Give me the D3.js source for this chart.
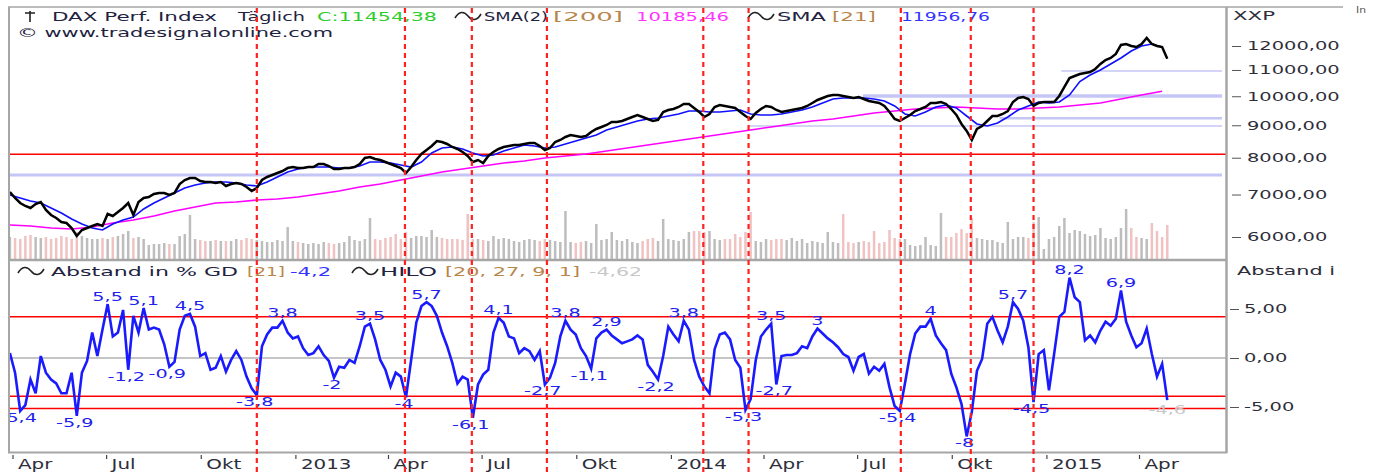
<!DOCTYPE html>
<html>
<head>
<meta charset="utf-8">
<script src="https://cdn.jsdelivr.net/npm/d3@7"></script>
<style>
  body { margin: 0; background: #fff; }
  svg { display: block; }
  text { font-family: "DejaVu Sans", Verdana, sans-serif; }
</style>
</head>
<body>
<svg id="chart"></svg>
<script>
// DAX daily, sampled: closes every 5 days, SMA21 every 10 days, SMA200 every 20 days
const startDate = new Date(Date.UTC(2012, 2, 29));

const closes = [7064,6913,6788,6715,6666,6763,6812,6618,6499,6428,
  6336,6313,6199,6022,6154,6199,6244,6290,6244,6523,
  6475,6570,6666,6788,6499,6812,6913,6938,7013,7039,
  7039,6988,7039,7272,7379,7433,7433,7352,7325,7325,
  7299,7325,7220,7272,7299,7272,7194,7090,7168,7379,
  7460,7514,7569,7623,7706,7734,7706,7706,7734,7734,
  7819,7819,7763,7679,7679,7706,7706,7734,7819,7992,
  8021,7963,7934,7877,7819,7763,7706,7569,7734,7934,
  8109,8228,8348,8501,8470,8409,8318,8258,8168,8051,
  7877,7934,7848,8051,8168,8258,8318,8348,8378,8378,
  8409,8439,8439,8348,8228,8288,8470,8532,8625,8688,
  8656,8625,8656,8784,8880,8945,9010,9108,9108,9141,
  9207,9274,9342,9274,9207,9141,9174,9445,9514,9548,
  9618,9724,9724,9583,9445,9274,9376,9618,9688,9653,
  9618,9583,9445,9308,9207,9411,9548,9653,9618,9514,
  9445,9479,9514,9548,9583,9653,9759,9865,9937,10009,
  10046,10046,10009,9973,9937,9973,9901,9830,9794,9759,
  9653,9445,9207,9141,9241,9342,9479,9548,9618,9759,
  9759,9794,9724,9548,9342,9043,8816,8532,8880,8977,
  9141,9308,9308,9376,9479,9794,9937,9973,9901,9653,
  9759,9794,9794,9794,10009,10342,10684,10762,10840,10880,
  10919,11040,11243,11406,11489,11657,12044,12088,12000,11957,
  12088,12353,12088,12000,11957,11454];

const sma21 = [6988,6913,6837,6788,6666,6547,6405,6290,6199,6154,
  6290,6382,6451,6642,6788,6913,7039,7168,7246,7299,
  7325,7325,7299,7246,7220,7325,7460,7596,7679,7734,
  7734,7734,7706,7706,7763,7877,7877,7848,7791,7734,
  7877,8139,8288,8318,8258,8139,8051,8080,8198,8288,
  8378,8348,8288,8318,8409,8501,8594,8688,8848,8945,
  9043,9141,9207,9241,9308,9376,9479,9479,9445,9445,
  9479,9514,9376,9342,9342,9376,9445,9514,9618,9759,
  9901,9937,9937,9937,9901,9830,9653,9376,9308,9445,
  9618,9688,9583,9308,9043,8977,9076,9274,9514,9653,
  9794,9759,9794,10046,10545,10802,11000,11243,11489,11784,
  12000,12088,11957];

const sma200 = [6267,6244,6199,6177,6221,6313,6382,6475,6594,6690,
  6788,6812,6862,6888,6938,7013,7090,7194,7272,7379,
  7487,7596,7679,7763,7848,7906,7992,8051,8109,8198,
  8288,8378,8470,8563,8656,8752,8848,8945,9043,9141,
  9207,9308,9411,9479,9548,9583,9618,9583,9548,9548,
  9583,9618,9688,9759,9901,10046,10185];

const volumes = [22,21,20,23,24,22,21,22,20,21,
  23,22,20,27,23,21,20,20,21,20,
  22,23,25,28,21,22,20,14,15,15,
  16,15,15,23,25,44,20,19,18,18,
  19,18,18,18,20,19,21,20,19,18,
  17,17,19,18,32,18,17,16,15,16,
  15,17,16,15,16,17,23,19,18,20,
  41,20,19,21,22,25,20,27,21,23,
  23,22,29,22,21,20,20,20,19,45,
  20,20,19,18,23,20,21,20,18,17,
  19,20,19,18,20,19,18,17,48,17,
  16,17,18,16,35,19,20,27,19,18,
  20,17,16,18,20,21,18,40,20,19,
  18,20,27,28,28,27,28,20,19,20,
  20,25,22,27,47,18,17,20,19,20,
  20,19,21,18,20,16,18,17,16,27,
  17,16,45,17,16,17,18,17,28,16,
  17,29,21,20,20,14,13,14,22,14,
  13,46,22,22,26,30,26,41,21,20,
  19,19,17,16,37,20,22,22,21,37,
  42,10,20,22,33,41,26,29,28,25,
  23,24,31,21,20,22,31,50,31,22,
  21,20,36,28,22,34];

// Abstand in % GD [21], same 5-day sampling as closes
const abstand = [0.5,-1.5,-5.4,-4.8,-2.2,-3.6,0.2,-1.5,-2.2,-2.6,
  -3.6,-3.6,-1.5,-5.9,-1.5,-0.3,2.6,0.2,2.9,5.5,
  2.2,2.6,4.9,-1.2,4.3,2.6,5.1,2.9,3.1,2.9,
  1.4,-0.9,-0.4,2.9,4.3,4.5,3.2,0.2,0.5,-1.2,
  -1.0,0.2,-1.4,-0.2,0.7,-0.2,-1.9,-3.1,-3.8,1.2,
  2.4,3.1,3.1,3.8,2.6,2.0,2.2,1.0,0.3,0.5,
  1.2,0.3,-0.3,-2.0,-0.9,-1.0,-0.2,-0.5,1.2,3.2,
  3.5,1.9,-0.2,-1.2,-2.9,-1.5,-1.9,-4.0,-0.2,3.6,
  5.3,5.7,5.3,4.3,2.6,1.2,-0.5,-2.6,-1.9,-2.2,
  -6.1,-2.7,-1.7,-1.2,2.6,4.1,3.6,2.2,2.0,0.5,
  1.0,0.7,-0.2,0.7,-2.7,-2.0,-0.5,2.2,3.8,2.9,
  2.4,1.0,0.2,-1.1,2.0,2.6,2.9,2.3,1.9,1.5,
  1.7,1.9,2.3,1.9,-0.7,-1.4,-2.2,0.2,3.2,2.4,
  1.7,3.8,2.9,-0.2,-1.9,-2.9,-3.6,0.9,2.4,2.6,
  1.9,-0.2,-1.0,-5.3,-4.2,-0.2,2.2,2.9,3.5,-2.7,
  0.2,0.3,0.3,0.5,1.2,1.0,2.2,3.0,2.5,2.0,
  1.6,1.1,0.4,0.1,-1.3,0.1,0.4,-1.6,-0.9,-1.3,
  -0.6,-3.0,-4.9,-5.4,-2.6,0.4,2.5,3.2,3.2,4.0,
  2.3,1.5,0.8,-1.6,-3.0,-4.7,-8.0,-5.5,-1.3,-0.1,
  3.5,4.2,2.8,1.6,3.2,5.7,5.0,3.8,1.1,-4.5,
  0.4,0.8,-3.3,0.4,4.2,4.7,8.2,6.2,5.7,1.8,
  2.3,1.6,2.8,3.7,3.3,4.0,6.9,3.7,2.3,1.1,
  1.5,3.0,0.4,-1.9,-0.6,-4.3];

// indices of the labelled highs and lows of the oscillator
const pivotIdx = [2,13,19,23,26,31,35,48,53,63,70,77,81,90,95,104,108,113,116,
  126,131,143,148,149,157,173,179,186,195,199,206,216];
const hiloLast = -4.62;

const signalDates = ['2012-11-24','2013-04-17','2013-06-21','2013-09-02','2014-02-01',
  '2014-03-17','2014-08-12','2014-10-19','2014-12-19'];

// horizontal price levels: value, start date, stroke width
const levelValues = [7514, 8978, 9236, 10010, 10960];
const levelStarts = ['2012-03-29', '2014-03-17', '2014-11-16', '2014-07-06', '2015-01-15'];
const levelWidths = [3, 1.5, 2.5, 3.5, 1.5];
const redPriceLevel = 8100;
const oscLevels = [4.2, -3.9, -5.15];

const priceTicks = [6000, 7000, 8000, 9000, 10000, 11000, 12000];
const oscTicks = [-5, 0, 5];
const monthTicks = ['2012-04-01','2012-07-01','2012-10-01','2013-01-01','2013-04-01','2013-07-01',
  '2013-10-01','2014-01-01','2014-04-01','2014-07-01','2014-10-01','2015-01-01','2015-04-01'];
const monthLabels = ['Apr','Jul','Okt','2013','Apr','Jul','Okt','2014','Apr','Jul','Okt','2015','Apr'];

const NAVY = '#22223f', BROWN = '#b8864a';

let svg = d3.select('#chart').attr('width', 1378).attr('height', 472);
svg.append('rect').attr('width', 1378).attr('height', 472).attr('fill', '#fff');

let x = d3.scaleUtc()
  .domain([new Date(Date.UTC(2012, 3, 1)), new Date(Date.UTC(2015, 3, 1))])
  .range([13, 1139.5]);
let yP = d3.scaleLog().domain([6000, 12000]).range([237, 46]);
let yV = d3.scaleLinear().domain([0, 60]).range([259, 199]);
let yO = d3.scaleLinear().domain([-5, 5]).range([407, 309]);

let day = (s) => new Date(s + 'T00:00:00Z');
let series = (arr, step) => arr.map((v, i) => ({ date: d3.utcDay.offset(startDate, i * step), v: v }));

let loc = d3.formatLocale({ decimal: ',', thousands: '.', grouping: [3], currency: ['', ''], minus: '-' });
let f2 = loc.format('.2f');
let f1 = loc.format('.1~f');

// stretch text horizontally like the original (wide rendering)
let stretch = (sel, k) => sel.each(function () {
  let len = this.getComputedTextLength();
  d3.select(this).attr('textLength', len * k).attr('lengthAdjust', 'spacingAndGlyphs');
});
let txt = (g, xx, yy, s, w, color, size) => g.append('text')
  .attr('x', xx).attr('y', yy)
  .attr('font-size', size || 12.5)
  .attr('fill', color || NAVY)
  .attr('textLength', w).attr('lengthAdjust', 'spacingAndGlyphs')
  .text(s);
let wave = (g, x0, yc) => g.append('path')
  .attr('d', `M${x0},${yc + 2} C${x0 + 4},${yc - 5} ${x0 + 9},${yc - 5} ${x0 + 13},${yc} C${x0 + 17},${yc + 5} ${x0 + 22},${yc + 5} ${x0 + 26},${yc - 2}`)
  .attr('fill', 'none').attr('stroke', '#222').attr('stroke-width', 1.6);

let defs = svg.append('defs');
defs.append('clipPath').attr('id', 'clipP').append('rect')
  .attr('x', 10).attr('y', 8).attr('width', 1216).attr('height', 251);
defs.append('clipPath').attr('id', 'clipO').append('rect')
  .attr('x', 10).attr('y', 262).attr('width', 1216).attr('height', 189);

// ---------- price panel ----------
let pricePts = series(closes, 5);
let pp = svg.append('g').attr('clip-path', 'url(#clipP)');

pp.selectAll('.vol')
  .data(series(volumes, 5))
  .enter()
  .append('rect')
  .attr('class', 'vol')
  .attr('x', (d) => x(d.date) - 1.25)
  .attr('y', (d) => yV(d.v))
  .attr('width', 2.5)
  .attr('height', (d) => yV(0) - yV(d.v))
  .attr('fill', (d, i) => (i > 0 && closes[i] < closes[i - 1]) ? '#f0c2c2' : '#bdbdbd');

levelValues.forEach((v, i) => {
  pp.append('line')
    .attr('x1', x(day(levelStarts[i]))).attr('x2', 1222)
    .attr('y1', yP(v)).attr('y2', yP(v))
    .attr('stroke', '#c6c6f6').attr('stroke-width', levelWidths[i]);
});
pp.append('line')
  .attr('x1', 10).attr('x2', 1226)
  .attr('y1', yP(redPriceLevel)).attr('y2', yP(redPriceLevel))
  .attr('stroke', '#ff0000').attr('stroke-width', 1.5);

let pLine = d3.line().x((d) => x(d.date)).y((d) => yP(d.v));
pp.append('path').datum(series(sma200, 20))
  .attr('d', pLine).attr('fill', 'none').attr('stroke', '#ff00ff').attr('stroke-width', 1.6);
pp.append('path').datum(series(sma21, 10))
  .attr('d', pLine).attr('fill', 'none').attr('stroke', '#1010ff').attr('stroke-width', 1.6);
pp.append('path').datum(pricePts)
  .attr('d', pLine).attr('fill', 'none').attr('stroke', '#000').attr('stroke-width', 2.5)
  .attr('stroke-linejoin', 'miter');

// ---------- oscillator panel ----------
let og = svg.append('g').attr('clip-path', 'url(#clipO)');
og.append('line')
  .attr('x1', 10).attr('x2', 1226).attr('y1', yO(0)).attr('y2', yO(0))
  .attr('stroke', '#8c8c8c').attr('stroke-width', 1.2);
oscLevels.forEach((v) => {
  og.append('line')
    .attr('x1', 10).attr('x2', 1226).attr('y1', yO(v)).attr('y2', yO(v))
    .attr('stroke', '#ff0000').attr('stroke-width', 1.5);
});

let oscPts = series(abstand, 5);
og.append('path').datum(oscPts)
  .attr('d', d3.line().x((d) => x(d.date)).y((d) => yO(d.v)))
  .attr('fill', 'none').attr('stroke', '#1a1aff').attr('stroke-width', 2.6)
  .attr('stroke-linejoin', 'miter');

let pivLabels = og.selectAll('.piv')
  .data(pivotIdx.map((i) => oscPts[i]))
  .enter()
  .append('text')
  .attr('class', 'piv')
  .attr('font-size', 12)
  .attr('fill', '#2222ee')
  .attr('y', (d) => d.v > 0 ? yO(d.v) - 3.5 : yO(d.v) + 11)
  .text((d) => f1(d.v));
pivLabels.each(function (d) {
  let len = this.getComputedTextLength() * 1.6;
  d3.select(this).attr('x', x(d.date) - len / 2 - (d.v < 0 ? 2 : 0))
    .attr('textLength', len).attr('lengthAdjust', 'spacingAndGlyphs');
});
let last = oscPts[oscPts.length - 1];
let hl = og.append('text')
  .attr('font-size', 12).attr('fill', '#c8c8c8')
  .attr('y', yO(hiloLast) + 11)
  .text(f1(hiloLast));
hl.each(function () {
  let len = this.getComputedTextLength() * 1.6;
  d3.select(this).attr('x', x(last.date) - len / 2)
    .attr('textLength', len).attr('lengthAdjust', 'spacingAndGlyphs');
});

// ---------- frames ----------
let frame = svg.append('g').attr('stroke', '#a6a6a6').attr('fill', 'none');
frame.append('line').attr('x1', 8).attr('x2', 1343).attr('y1', 7).attr('y2', 7).attr('stroke-width', 1.5);
frame.append('line').attr('x1', 9).attr('x2', 9).attr('y1', 7).attr('y2', 453).attr('stroke-width', 2);
frame.append('line').attr('x1', 1226.5).attr('x2', 1226.5).attr('y1', 7).attr('y2', 453).attr('stroke-width', 2.5);
frame.append('line').attr('x1', 8).attr('x2', 1227).attr('y1', 260).attr('y2', 260).attr('stroke-width', 2.5);
frame.append('line').attr('x1', 8).attr('x2', 1227).attr('y1', 452.5).attr('y2', 452.5).attr('stroke-width', 2);

// ---------- axes ----------
let pAxis = svg.append('g')
  .attr('transform', 'translate(1232,0)')
  .call(d3.axisRight(yP).tickValues(priceTicks).tickFormat(f2).tickSize(9).tickPadding(6));
pAxis.select('.domain').remove();
pAxis.selectAll('line').attr('stroke', '#555');
pAxis.selectAll('text').attr('font-size', 12.3).attr('fill', '#2e2e3a')
  .attr('font-family', '"DejaVu Sans", sans-serif').call(stretch, 1.58);

let oAxis = svg.append('g')
  .attr('transform', 'translate(1230,0)')
  .call(d3.axisRight(yO).tickValues(oscTicks).tickFormat(f2).tickSize(9).tickPadding(5));
oAxis.select('.domain').remove();
oAxis.selectAll('line').attr('stroke', '#555');
oAxis.selectAll('text').attr('font-size', 12.3).attr('fill', '#2e2e3a')
  .attr('font-family', '"DejaVu Sans", sans-serif').call(stretch, 1.58);

let xg = svg.append('g');
monthTicks.forEach((s, i) => {
  let px = x(day(s));
  xg.append('line').attr('x1', px).attr('x2', px).attr('y1', 455).attr('y2', 459)
    .attr('stroke', '#444').attr('stroke-width', 1.2);
  xg.append('text').attr('x', px + 5).attr('y', 469)
    .attr('font-size', 14).attr('fill', '#2e2e3a')
    .text(monthLabels[i]).call(stretch, 1.42);
});

// ---------- legends ----------
let lg = svg.append('g');
lg.append('path').attr('d', 'M25,13 H35 M30,11 V22')
  .attr('stroke', '#222').attr('stroke-width', 1.6).attr('fill', 'none');
txt(lg, 52, 21, 'DAX Perf. Index', 165);
txt(lg, 238, 21, 'Täglich', 67);
txt(lg, 317, 21, 'C:11454,38', 120, '#2ecc2e');
wave(lg, 455, 16);
txt(lg, 484, 21, 'SMA(2)', 64);
txt(lg, 553, 21, '[200]', 70, BROWN);
txt(lg, 636, 21, '10185,46', 93, '#ff33ff');
wave(lg, 748, 16);
txt(lg, 777, 21, 'SMA', 49);
txt(lg, 832, 21, '[21]', 44, BROWN);
txt(lg, 901, 21, '11956,76', 89, '#3333ff');
txt(lg, 17, 37, '© www.tradesignalonline.com', 316);

wave(lg, 18, 271);
txt(lg, 51, 276, 'Abstand in % GD', 187);
txt(lg, 247, 276, '[21]', 38, BROWN);
txt(lg, 290, 276, '-4,2', 41, '#3333ff');
wave(lg, 352, 271);
txt(lg, 380, 276, 'HILO', 57);
txt(lg, 445, 276, '[20, 27, 9, 1]', 135, BROWN);
txt(lg, 589, 276, '-4,62', 53, '#c8c8c8');

txt(lg, 1233, 20, 'XXP', 42, '#2e2e3a', 11.5);
txt(lg, 1237, 275, 'Abstand i', 98, '#2e2e3a', 12.3);
txt(lg, 1356, 13, 'In', 10, '#555', 8);

// ---------- signal lines ----------
svg.append('g').selectAll('line')
  .data(signalDates.map(day))
  .enter()
  .append('line')
  .attr('x1', (d) => x(d)).attr('x2', (d) => x(d))
  .attr('y1', 8).attr('y2', 472)
  .attr('stroke', '#ff2020').attr('stroke-width', 2.2)
  .attr('stroke-dasharray', '5,4');
</script>
</body>
</html>
